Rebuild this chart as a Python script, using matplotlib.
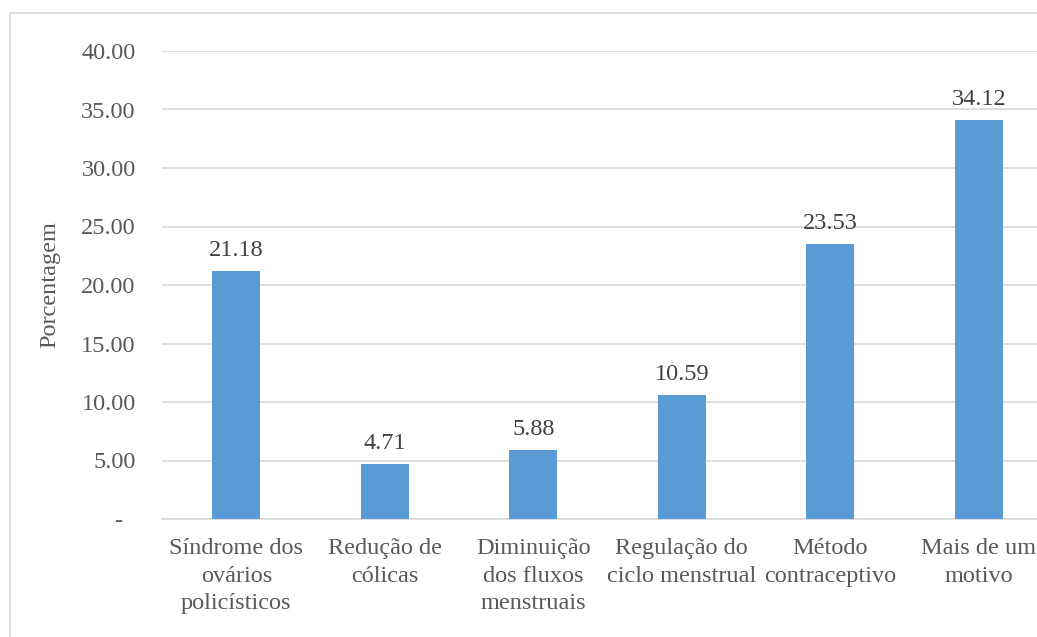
import matplotlib
matplotlib.use("Agg")
import matplotlib.pyplot as plt
from matplotlib.patches import Rectangle

categories = ["Síndrome dos\novários\npolicísticos", "Redução de\ncólicas",
              "Diminuição\ndos fluxos\nmenstruais", "Regulação do\nciclo menstrual",
              "Método\ncontraceptivo", "Mais de um\nmotivo"]
values = [21.18, 4.71, 5.88, 10.59, 23.53, 34.12]
yticks = [0, 5, 10, 15, 20, 25, 30, 35, 40]
ytick_labels = ["-  ", "5.00", "10.00", "15.00", "20.00", "25.00", "30.00", "35.00", "40.00"]

plt.rcParams['font.family'] = ['Liberation Serif', 'DejaVu Serif']
text_color = "#595959"
grid_color = "#D9D9D9"
bar_color = "#5B9BD5"
fs = 17.5

fig = plt.figure(figsize=(10.37, 6.37), dpi=100)
fig.patches.append(Rectangle((10/1037, -0.1), 1.2, 0.1 + 1 - 13/637, transform=fig.transFigure,
                             fill=False, edgecolor=grid_color, linewidth=1.2, zorder=0))
ax = fig.add_axes([162/1037, 1 - 519/637, 891/1037, 468/637])
x = list(range(len(categories)))
ax.bar(x, values, width=0.32, color=bar_color, zorder=3)
ax.set_xlim(-0.5, len(categories) - 0.5)
ax.set_ylim(0, 40)
ax.set_yticks(yticks)
ax.set_yticklabels(ytick_labels)
ax.set_xticks(x)
ax.set_xticklabels(categories, linespacing=1.4)
ax.tick_params(axis='both', length=0, labelsize=fs, colors=text_color)
ax.tick_params(axis='y', pad=19)
ax.tick_params(axis='x', pad=14)
ax.grid(axis='y', color=grid_color, linewidth=1.2, zorder=0)
for s in ['top', 'right', 'left']:
    ax.spines[s].set_visible(False)
ax.spines['bottom'].set_color(grid_color)
ax.spines['bottom'].set_linewidth(1.2)
ax.set_ylabel("Porcentagem", fontsize=fs, color=text_color, labelpad=15)
for xi, v in zip(x, values):
    ax.annotate(f"{v:.2f}", (xi, v), xytext=(0, 7), textcoords='offset points',
                ha='center', va='bottom', fontsize=fs, color='#404040')
fig.savefig("out.png", dpi=100)
